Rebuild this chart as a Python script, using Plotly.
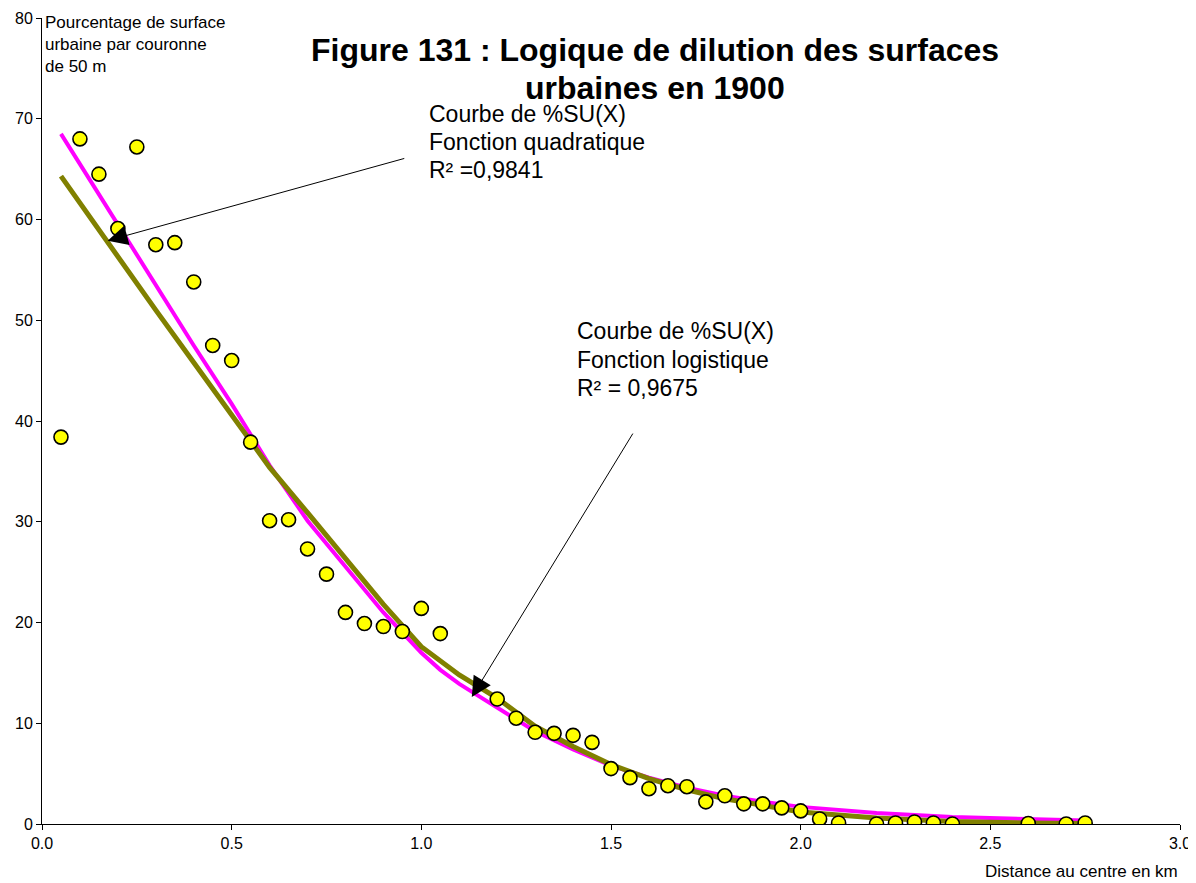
import plotly.graph_objects as go

# Observed data: distance (km) vs % urban surface per 50 m ring
dist_km = [0.05, 0.10, 0.15, 0.20, 0.25, 0.30, 0.35, 0.40, 0.45, 0.50,
           0.55, 0.60, 0.65, 0.70, 0.75, 0.80, 0.85, 0.90, 0.95, 1.00,
           1.05, 1.20, 1.25, 1.30, 1.35, 1.40, 1.45, 1.50, 1.55, 1.60,
           1.65, 1.70, 1.75, 1.80, 1.85, 1.90, 1.95, 2.00, 2.05, 2.10,
           2.20, 2.25, 2.30, 2.35, 2.40, 2.60, 2.70, 2.75]
pct_su = [38.4, 68.0, 64.5, 59.1, 67.2, 57.5, 57.7, 53.8, 47.5, 46.0,
          37.9, 30.1, 30.2, 27.3, 24.8, 21.0, 19.9, 19.6, 19.1, 21.4,
          18.9, 12.4, 10.5, 9.1, 9.0, 8.8, 8.1, 5.5, 4.6, 3.5,
          3.8, 3.7, 2.2, 2.8, 2.0, 2.0, 1.6, 1.3, 0.5, 0.1,
          0.0, 0.1, 0.2, 0.1, 0.0, 0.05, 0.0, 0.1]

# Fitted curve (quadratic)
quad_x = [0.05, 0.10, 0.20, 0.30, 0.40, 0.50, 0.60, 0.70, 0.80, 0.90,
          1.00, 1.05, 1.10, 1.20, 1.30, 1.40, 1.50, 1.60, 1.70, 1.80,
          1.90, 2.00, 2.20, 2.40, 2.60, 2.75]
quad_y = [68.5, 65.5, 59.5, 53.5, 47.5, 41.7, 35.6, 30.1, 25.5, 21.0,
          17.0, 15.3, 13.9, 11.6, 9.2, 7.4, 5.8, 4.6, 3.6, 2.8,
          2.2, 1.7, 1.1, 0.7, 0.45, 0.35]

# Fitted curve (logistic)
logi_x = [0.05, 0.10, 0.20, 0.30, 0.40, 0.50, 0.60, 0.70, 0.80, 0.90,
          1.00, 1.10, 1.20, 1.30, 1.40, 1.50, 1.60, 1.70, 1.80, 1.90,
          2.00, 2.20, 2.40, 2.60, 2.75]
logi_y = [64.3, 61.6, 56.3, 51.0, 45.8, 40.6, 35.4, 30.9, 26.4, 21.8,
          17.6, 14.8, 12.5, 9.7, 7.7, 5.9, 4.5, 3.4, 2.5, 1.8,
          1.2, 0.6, 0.25, 0.1, 0.05]

x_ticks = [0.0, 0.5, 1.0, 1.5, 2.0, 2.5, 3.0]
y_ticks = [0, 10, 20, 30, 40, 50, 60, 70, 80]

title_lines = ["Figure 131 : Logique de dilution des surfaces", "urbaines en 1900"]
quad_lines = ["Courbe de %SU(X)", "Fonction quadratique", "R² =0,9841"]
logi_lines = ["Courbe de %SU(X)", "Fonction logistique", "R² = 0,9675"]

FONT = "Liberation Sans, Arial, sans-serif"

fig = go.Figure()
fig.add_trace(go.Scatter(x=quad_x, y=quad_y, mode="lines",
                         line=dict(color="#FF00FF", width=4), showlegend=False))
fig.add_trace(go.Scatter(x=logi_x, y=logi_y, mode="lines",
                         line=dict(color="#808000", width=5), showlegend=False))
fig.add_trace(go.Scatter(x=dist_km, y=pct_su, mode="markers",
                         marker=dict(color="#FFFF00", size=14,
                                     line=dict(color="black", width=1.6)),
                         showlegend=False))

ann = []
# Title lines
for i, t in enumerate(title_lines):
    ann.append(dict(text="<b>%s</b>" % t, xref="paper", yref="paper",
                    x=(655 - 42) / 1138, y=(824 - 50 - 38 * i) / 806.4,
                    xanchor="center", yanchor="middle", showarrow=False,
                    font=dict(family=FONT, size=32, color="black")))
# Quadratic label
for i, t in enumerate(quad_lines):
    ann.append(dict(text=t, xref="x", yref="y", x=1.014, y=70.5 - 2.78 * i,
                    xanchor="left", yanchor="middle", showarrow=False,
                    font=dict(family=FONT, size=23, color="black")))
# Logistic label
for i, t in enumerate(logi_lines):
    ann.append(dict(text=t, xref="x", yref="y", x=1.405, y=48.9 - 2.83 * i,
                    xanchor="left", yanchor="middle", showarrow=False,
                    font=dict(family=FONT, size=23, color="black")))
# Arrows
ann.append(dict(text="", x=0.173, y=57.9, ax=0.959, ay=66.1, xref="x", yref="y",
                axref="x", ayref="y", showarrow=True, arrowhead=2, arrowsize=4,
                arrowwidth=1, arrowcolor="black"))
ann.append(dict(text="", x=1.133, y=12.6, ax=1.560, ay=38.9, xref="x", yref="y",
                axref="x", ayref="y", showarrow=True, arrowhead=2, arrowsize=4,
                arrowwidth=1, arrowcolor="black"))
# Axis titles
ann.append(dict(text="Pourcentage de surface<br>urbaine par couronne<br>de 50 m",
                xref="paper", yref="paper", x=0, y=1, xshift=1, yshift=7,
                xanchor="left", yanchor="top", align="left", showarrow=False,
                font=dict(family=FONT, size=17, color="black")))
ann.append(dict(text="Distance au centre en km", xref="paper", yref="paper",
                x=1, y=0, yshift=-47, xanchor="right", yanchor="middle", showarrow=False,
                font=dict(family=FONT, size=17, color="black")))

# The page body has an 8 px margin; sizes/margins compensate for it.
fig.update_layout(
    width=1188, height=875,
    margin=dict(l=34, r=16, t=9.6, b=59),
    paper_bgcolor="white", plot_bgcolor="white",
    font=dict(family=FONT, size=16, color="black"),
    annotations=ann,
    xaxis=dict(range=[0, 3.0], tickvals=x_ticks, tickformat=".1f", automargin=False,
               showgrid=False, zeroline=False, showline=True, linecolor="black",
               linewidth=1, ticks="outside", ticklen=5, tickcolor="black"),
    yaxis=dict(range=[0, 80], tickvals=y_ticks, showgrid=False, zeroline=False,
               automargin=False,
               showline=True, linecolor="black", linewidth=1, ticks="outside",
               ticklen=5, tickcolor="black"),
)

fig.write_html("out.html")
